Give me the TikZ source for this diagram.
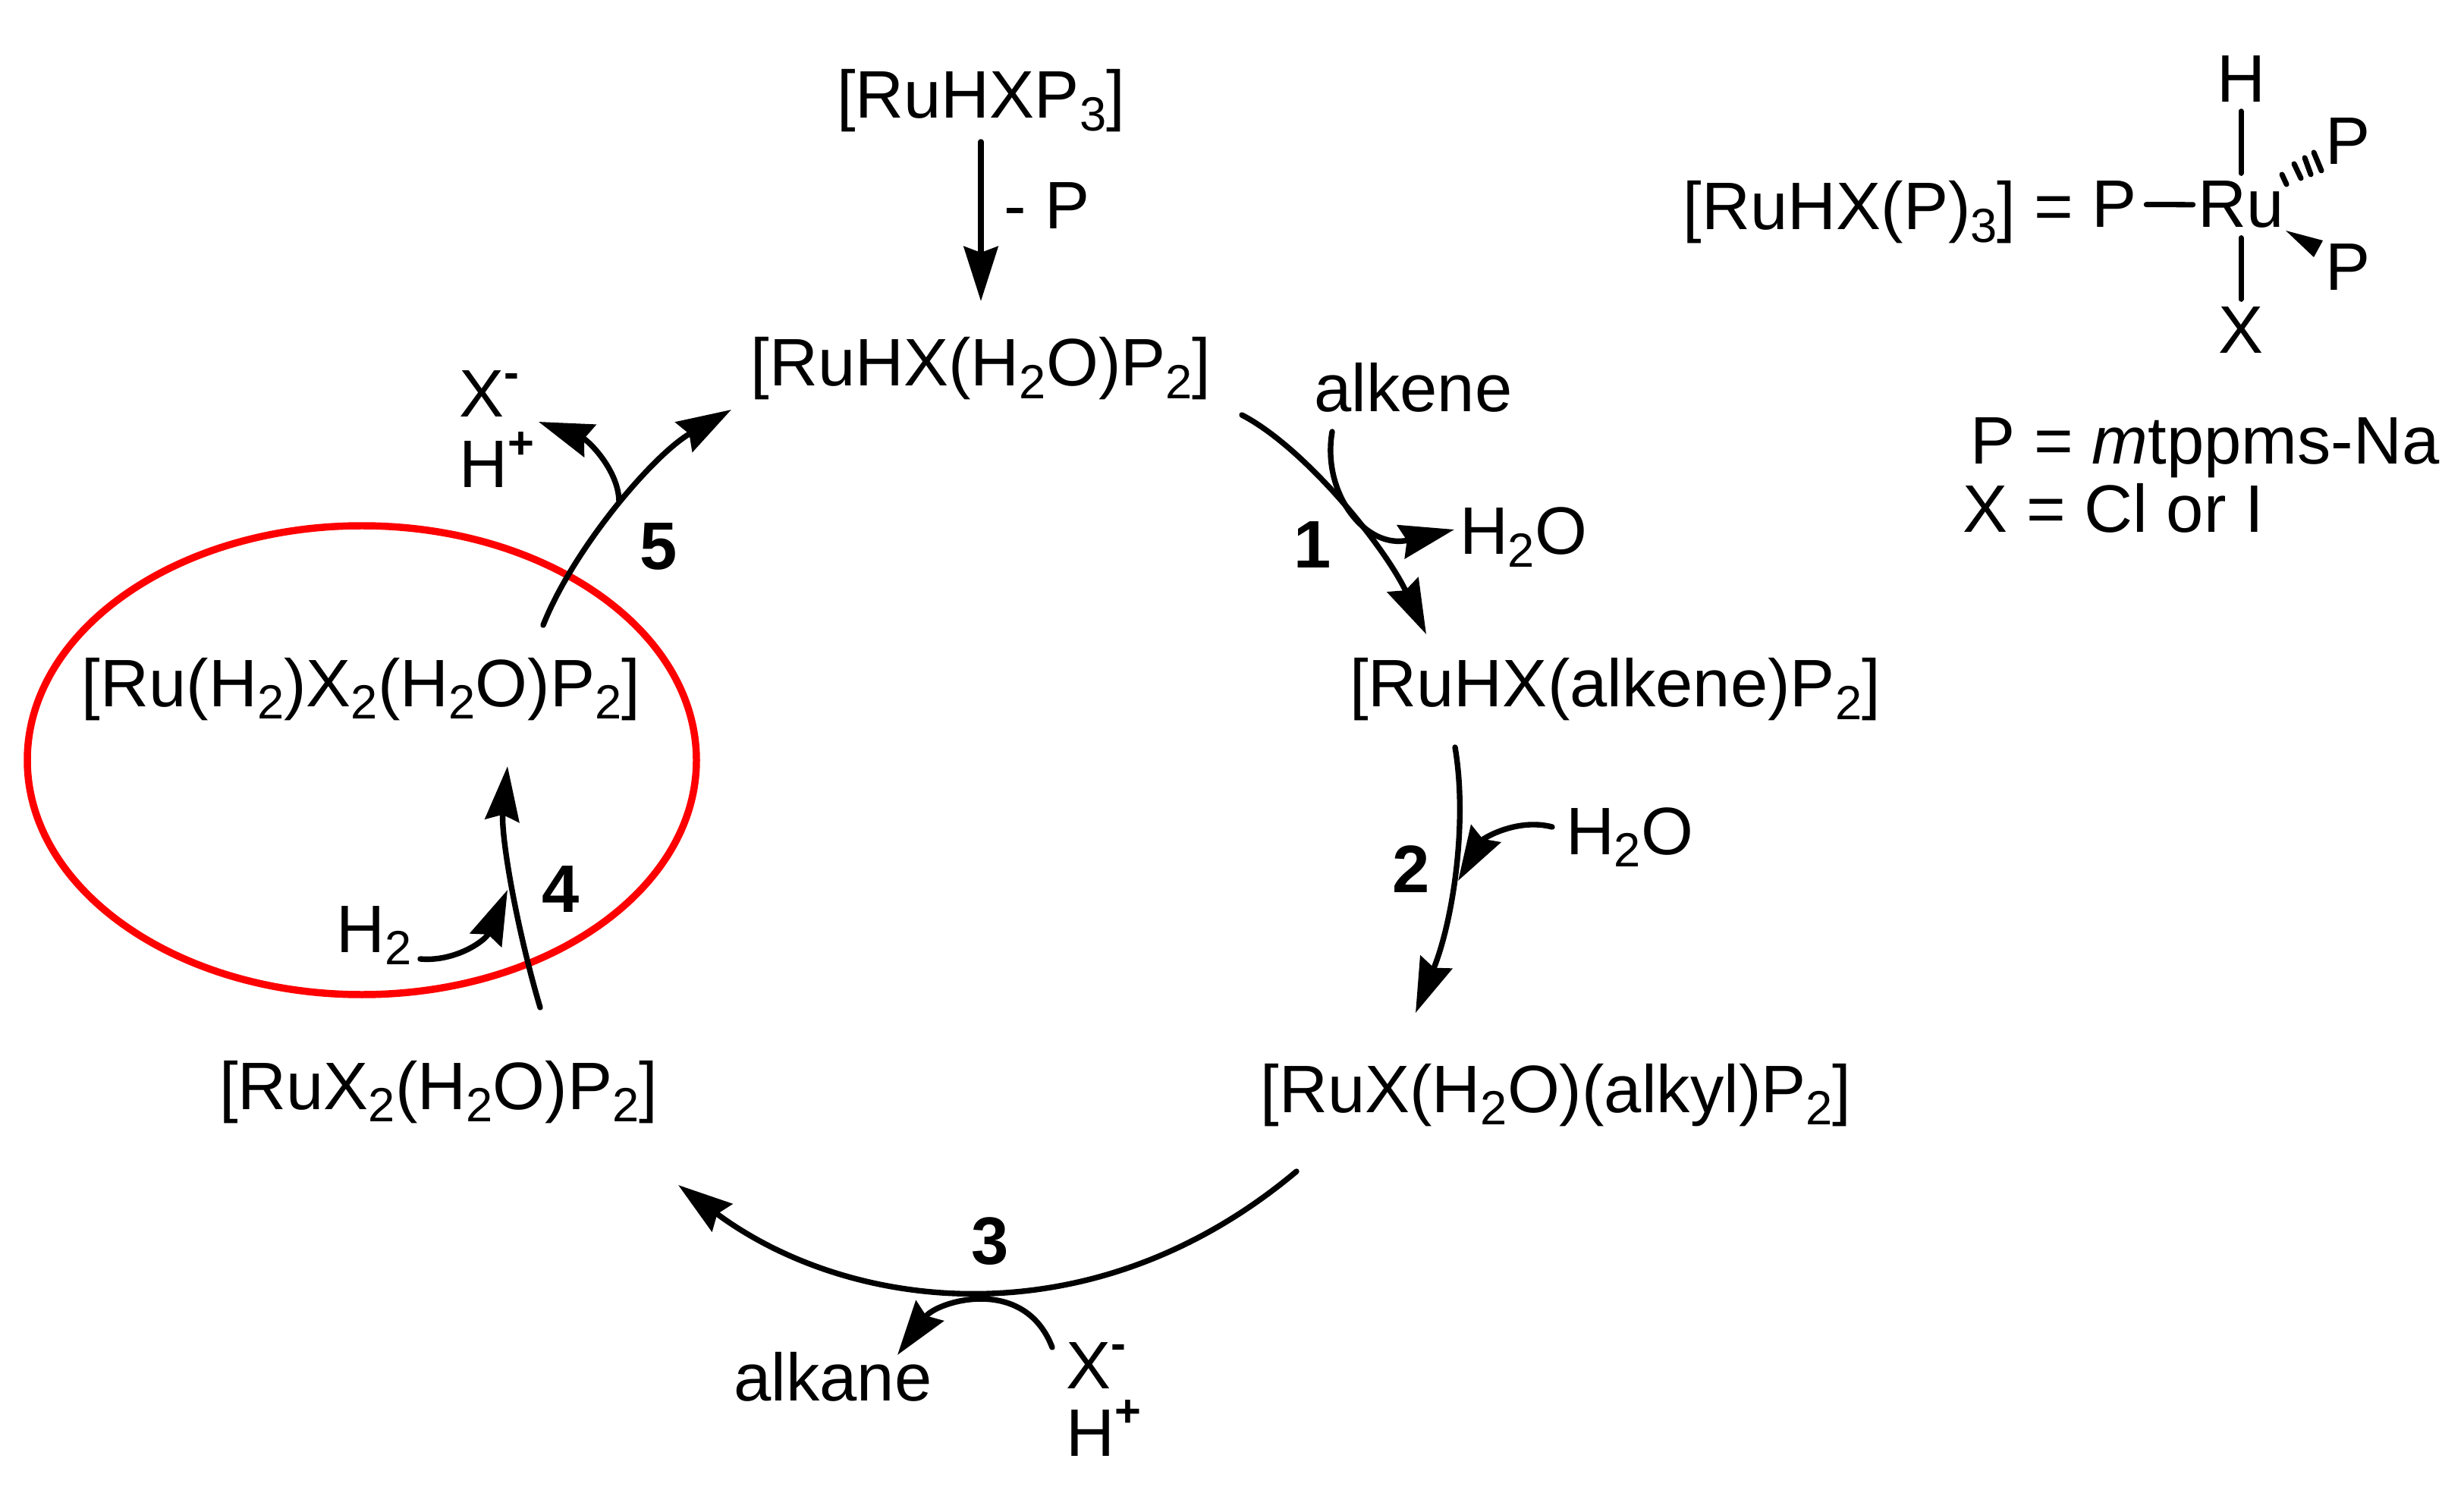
\documentclass[tikz,border=0pt]{standalone}
\usepackage{fontspec}
\setmainfont{Liberation Sans}
\usetikzlibrary{arrows.meta}
\newcommand{\lo}[1]{\raisebox{-4.8pt}{\fontsize{18}{18}\selectfont #1}}
\newcommand{\hi}[1]{\raisebox{11pt}{\fontsize{17}{17}\selectfont\bfseries #1}}
\tikzset{
    chem/.style={inner sep=0pt, anchor=base, font=\fontsize{25.2}{30}\selectfont},
    chemw/.style={chem, anchor=base west},
    stepnum/.style={inner sep=0pt, font=\fontsize{25.2}{30}\selectfont\bfseries},
    rxn/.style={line width=2.1pt, line cap=round, -{Stealth[length=7.2mm, width=4.5mm, inset=0.8mm]}},
    bond/.style={line width=2pt, line cap=round}
}
\begin{document}
\begin{tikzpicture}[yscale=-1]
    \useasboundingbox (0, 0) rectangle (32.48, 19.64);
    % highlighted species
    \draw [color=red, line width=2.7pt] (4.77, 10.02) ellipse (4.41 and 3.09);
    % cycle species
    \node [chem] (ruhxp) at (12.93, 1.56) {[RuHXP\lo{3}]};
    \node [chem] (hxaqua) at (12.93, 5.09) {[RuHX(H\lo{2}O)P\lo{2}]};
    \node [chem] (hxalkene) at (21.29, 9.32) {[RuHX(alkene)P\lo{2}]};
    \node [chem] (alkyl) at (20.51, 14.66) {[RuX(H\lo{2}O)(alkyl)P\lo{2}]};
    \node [chem] (xaqua) at (5.78, 14.62) {[RuX\lo{2}(H\lo{2}O)P\lo{2}]};
    \node [chem] (dihydrogen) at (4.76, 9.31) {[Ru(H\lo{2})X\lo{2}(H\lo{2}O)P\lo{2}]};
    % small molecules
    \node [chem] (lossp) at (13.80, 3.02) {- P};
    \node [chem] (alkene) at (18.63, 5.43) {alkene};
    \node [chem] (wateroff) at (20.08, 7.31) {H\lo{2}O};
    \node [chem] (wateron) at (21.48, 11.26) {H\lo{2}O};
    \node [chem] (alkane) at (10.98, 18.46) {alkane};
    \node [chemw] (xbot) at (14.05, 18.30) {X\hi{-}};
    \node [chemw] (hbot) at (14.05, 19.19) {H\hi{+}};
    \node [chem] (dihyd) at (4.93, 12.55) {H\lo{2}};
    \node [chemw] (xtop) at (6.05, 5.50) {X\hi{-}};
    \node [chemw] (htop) at (6.05, 6.43) {H\hi{+}};
    % step numbers
    \node [stepnum] (one) at (17.30, 7.18) {1};
    \node [stepnum] (two) at (18.60, 11.46) {2};
    \node [stepnum] (three) at (13.05, 16.36) {3};
    \node [stepnum] (four) at (7.39, 11.72) {4};
    \node [stepnum] (five) at (8.68, 7.20) {5};
    % entry into the cycle
    \draw [rxn] ([yshift=0.31cm]ruhxp.base) -- ([yshift=-1.12cm]hxaqua.base);
    % step 1
    \draw [rxn] ([shift={(3.44, 0.38)}]hxaqua.base) .. controls (17.20, 5.90) and (18.25, 7.20) .. ([shift={(-2.49, -0.96)}]hxalkene.base);
    \draw [rxn] ([shift={(-1.07, 0.26)}]alkene.base) .. controls (17.42, 6.50) and (18.00, 7.25) .. ([shift={(-0.91, -0.33)}]wateroff.base);
    % step 2
    \draw [rxn] ([shift={(-2.11, 0.53)}]hxalkene.base) .. controls (19.35, 10.85) and (19.15, 12.15) .. ([shift={(-1.85, -1.31)}]alkyl.base);
    \coordinate (watertip) at (19.22, 11.61);
    \draw [rxn] ([shift={(-1.02, -0.36)}]wateron.base) .. controls (20.00, 10.78) and (19.55, 11.05) .. (watertip);
    % step 3
    \draw [rxn] ([shift={(-3.42, 0.78)}]alkyl.base) .. controls (14.40, 17.70) and (11.20, 17.30) .. ([shift={(3.16, 1.00)}]xaqua.base);
    \draw [rxn] ([shift={(-0.18, -0.54)}]xbot.base west) .. controls (13.50, 16.80) and (12.35, 17.15) .. ([shift={(0.85, -0.60)}]alkane.base);
    % step 4
    \draw [rxn] ([shift={(1.34, -1.34)}]xaqua.base) .. controls (6.80, 12.20) and (6.60, 11.00) .. ([shift={(1.93, 0.79)}]dihydrogen.base);
    \coordinate (dihydtip) at (6.69, 11.73);
    \draw [rxn] ([shift={(0.61, 0.09)}]dihyd.base) .. controls (6.00, 12.68) and (6.40, 12.40) .. (dihydtip);
    % step 5
    \draw [rxn] ([shift={(2.40, -1.07)}]dihydrogen.base) .. controls (7.55, 7.25) and (8.60, 6.00) .. ([shift={(-3.29, 0.31)}]hxaqua.base);
    \coordinate (branch) at (8.16, 6.62);
    \draw [rxn] (branch) .. controls (8.16, 6.20) and (7.75, 5.80) .. ([shift={(1.05, 0.06)}]xtop.base west);
    % formula of the precursor
    \node [chemw] (formula) at (22.18, 3.03) {[RuHX(P)\lo{3}] =};
    \node [chem] (ru) at (29.54, 3.00) {Ru};
    \node [chem] (pleft) at (27.87, 3.00) {P};
    \node [chem] (hup) at (29.54, 1.35) {H};
    \node [chem] (xdown) at (29.54, 4.66) {X};
    \node [chem] (pup) at (30.95, 2.17) {P};
    \node [chem] (pdown) at (30.95, 3.83) {P};
    % bonds
    \draw [bond, shorten <=0.12cm, shorten >=0.06cm] (pleft) -- (ru);
    \draw [bond, shorten <=0.11cm, shorten >=0.10cm] (hup) -- (ru);
    \draw [bond, shorten <=0.10cm, shorten >=0.12cm] (xdown) -- (ru);
    % hashed bond
    \foreach \xa/\ya/\xb/\yb in {30.08/2.30/30.14/2.43, 30.24/2.16/30.33/2.35, 30.38/2.08/30.46/2.30, 30.50/2.01/30.60/2.25}
        \draw [bond] (\xa, \ya) -- (\xb, \yb);
    % solid wedge
    \fill (30.13, 3.04) -- (30.62, 3.17) -- (30.50, 3.39) -- cycle;
    % legend
    \node [chemw] (legendp) at (25.97, 6.12) {P = \textit{m}tppms-Na};
    \node [chemw] (legendx) at (25.87, 7.02) {X = Cl or I};
\end{tikzpicture}
\end{document}
